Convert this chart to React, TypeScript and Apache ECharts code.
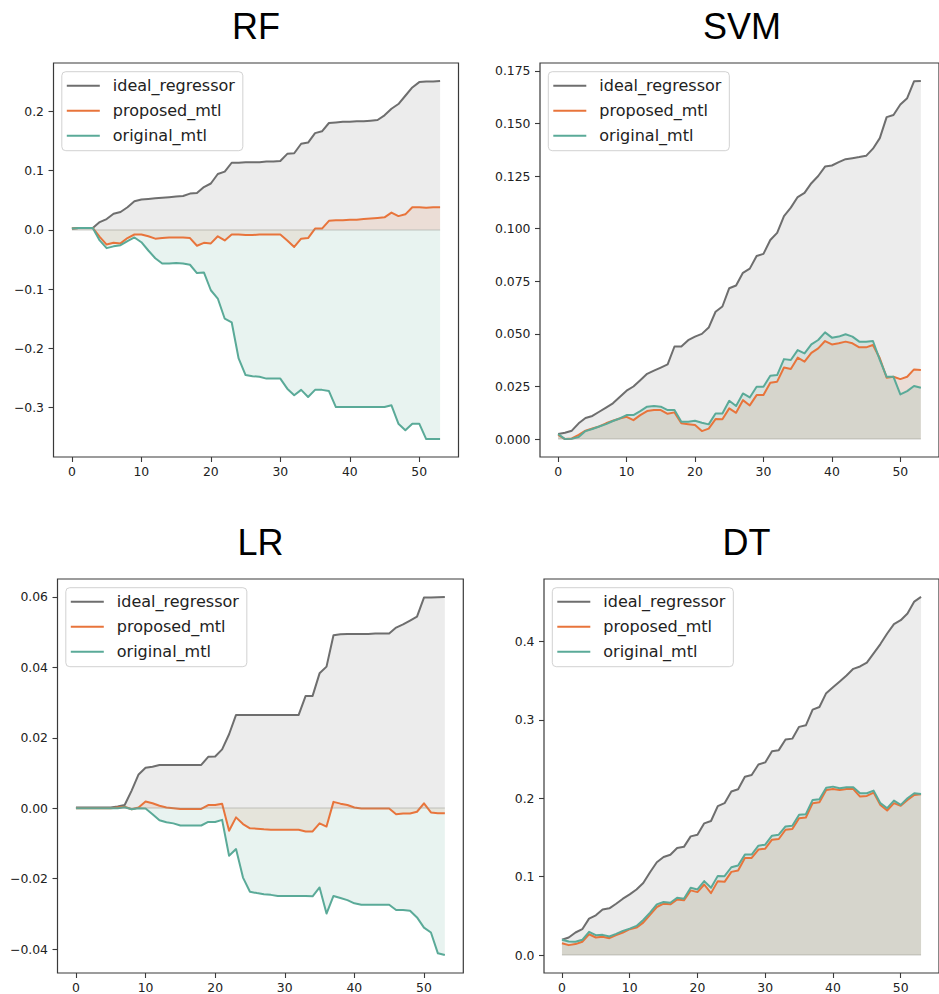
import React, { useEffect, useRef } from "react";
import * as echarts from "echarts";

// x positions (step index) shared by every panel
const steps: number[] = Array.from({ length: 54 }, (_, i) => i);
const xTicks = [0, 10, 20, 30, 40, 50];

const seriesNames = ["ideal_regressor", "proposed_mtl", "original_mtl"];
const lineColors = ["#6e6e6e", "#e8743b", "#5aaa98"];
const fillColors = ["rgba(128,128,128,0.15)", "rgba(232,116,59,0.12)", "rgba(90,170,152,0.14)"];

// ---- RF ----
const rfIdeal = [0.002, 0.003, 0.003, 0.003, 0.013, 0.018, 0.027, 0.030, 0.038, 0.048, 0.051, 0.052, 0.053, 0.054, 0.055, 0.056, 0.057, 0.061, 0.062, 0.072, 0.078, 0.094, 0.098, 0.113, 0.113, 0.114, 0.114, 0.114, 0.115, 0.115, 0.116, 0.128, 0.129, 0.145, 0.147, 0.163, 0.166, 0.180, 0.181, 0.182, 0.182, 0.183, 0.183, 0.184, 0.185, 0.193, 0.204, 0.212, 0.226, 0.240, 0.249, 0.250, 0.250, 0.251];
const rfProposed = [0.002, 0.003, 0.003, 0.003, -0.012, -0.025, -0.022, -0.023, -0.014, -0.008, -0.008, -0.011, -0.015, -0.014, -0.013, -0.013, -0.013, -0.014, -0.027, -0.022, -0.023, -0.011, -0.018, -0.008, -0.008, -0.009, -0.009, -0.008, -0.008, -0.008, -0.008, -0.018, -0.029, -0.015, -0.014, 0.002, 0.002, 0.015, 0.016, 0.016, 0.017, 0.017, 0.018, 0.019, 0.020, 0.021, 0.029, 0.023, 0.026, 0.038, 0.038, 0.037, 0.038, 0.038];
const rfOriginal = [0.002, 0.003, 0.003, 0.003, -0.018, -0.031, -0.028, -0.026, -0.019, -0.013, -0.021, -0.035, -0.048, -0.057, -0.057, -0.056, -0.057, -0.059, -0.073, -0.072, -0.102, -0.116, -0.150, -0.156, -0.217, -0.245, -0.247, -0.248, -0.251, -0.251, -0.251, -0.268, -0.279, -0.270, -0.282, -0.270, -0.270, -0.272, -0.299, -0.299, -0.299, -0.299, -0.299, -0.299, -0.299, -0.299, -0.296, -0.327, -0.338, -0.327, -0.327, -0.353, -0.353, -0.353];
const rfYTicks = [-0.3, -0.2, -0.1, 0, 0.1, 0.2];

// ---- SVM ----
const svmIdeal = [0.0024, 0.003, 0.004, 0.0075, 0.010, 0.011, 0.013, 0.015, 0.017, 0.020, 0.023, 0.025, 0.028, 0.031, 0.0325, 0.034, 0.0355, 0.044, 0.044, 0.047, 0.0487, 0.050, 0.053, 0.0605, 0.063, 0.0717, 0.073, 0.079, 0.081, 0.087, 0.088, 0.0946, 0.098, 0.106, 0.110, 0.115, 0.117, 0.1216, 0.125, 0.1295, 0.130, 0.1316, 0.133, 0.1335, 0.134, 0.1346, 0.138, 0.143, 0.153, 0.154, 0.159, 0.162, 0.170, 0.1702];
const svmProposed = [0.002, 0.0, 0.0003, 0.002, 0.004, 0.005, 0.006, 0.0075, 0.0087, 0.0098, 0.0106, 0.009, 0.0114, 0.0133, 0.0138, 0.0138, 0.012, 0.0127, 0.0075, 0.0071, 0.0067, 0.0038, 0.005, 0.0095, 0.0094, 0.0146, 0.0125, 0.0185, 0.016, 0.0209, 0.0209, 0.0268, 0.0273, 0.034, 0.0333, 0.0387, 0.0368, 0.041, 0.0431, 0.0466, 0.045, 0.0455, 0.0463, 0.0455, 0.0436, 0.0436, 0.0447, 0.0384, 0.0292, 0.0296, 0.0285, 0.0296, 0.0331, 0.0328];
const svmOriginal = [0.0024, 0.0, 0.0002, 0.001, 0.0038, 0.0048, 0.006, 0.0071, 0.0086, 0.0098, 0.0114, 0.0114, 0.0133, 0.0154, 0.0157, 0.0154, 0.0138, 0.0138, 0.0082, 0.0082, 0.0087, 0.0078, 0.007, 0.0122, 0.0122, 0.0182, 0.0157, 0.0217, 0.0198, 0.0249, 0.0249, 0.0301, 0.0304, 0.038, 0.0376, 0.0423, 0.0407, 0.045, 0.0471, 0.0507, 0.0482, 0.0487, 0.0498, 0.0487, 0.0463, 0.0463, 0.0466, 0.0376, 0.0296, 0.0296, 0.0212, 0.0228, 0.0252, 0.0244];
const svmYTicks = [0, 0.025, 0.05, 0.075, 0.1, 0.125, 0.15, 0.175];

// ---- LR ----
const lrIdeal = [0.0002, 0.0002, 0.0002, 0.0002, 0.0002, 0.0002, 0.0005, 0.0009, 0.005, 0.0096, 0.0115, 0.0118, 0.0123, 0.0123, 0.0123, 0.0123, 0.0123, 0.0123, 0.0123, 0.0146, 0.0147, 0.0167, 0.021, 0.0265, 0.0265, 0.0265, 0.0265, 0.0265, 0.0265, 0.0265, 0.0265, 0.0265, 0.0265, 0.0319, 0.0319, 0.0383, 0.0402, 0.0491, 0.0494, 0.0495, 0.0495, 0.0495, 0.0495, 0.0496, 0.0496, 0.0496, 0.0513, 0.0522, 0.0533, 0.0544, 0.0598, 0.0598, 0.0599, 0.060];
const lrProposed = [0, 0, 0, 0, 0, 0, 0.0002, 0.0004, -0.0003, 0.0002, 0.0019, 0.0014, 0.0007, 0.0002, 0.0, -0.0002, -0.0002, -0.0002, -0.0002, 0.0009, 0.0009, 0.0013, -0.0064, -0.0026, -0.0045, -0.0057, -0.0058, -0.006, -0.0061, -0.0061, -0.0061, -0.0061, -0.0061, -0.0066, -0.0066, -0.0043, -0.0052, 0.0018, 0.0013, 0.0009, 0.0002, -0.0001, -0.0001, -0.0001, -0.0001, -0.0001, -0.0017, -0.0015, -0.0015, -0.001, 0.0014, -0.0012, -0.0014, -0.0014];
const lrOriginal = [0, 0, 0, 0, 0, 0, 0, 0.0003, -0.0003, 0.0, -0.0001, -0.0017, -0.0034, -0.004, -0.0043, -0.0049, -0.0049, -0.0049, -0.0049, -0.0039, -0.0039, -0.0033, -0.0135, -0.0116, -0.0197, -0.0237, -0.0241, -0.0244, -0.0246, -0.0249, -0.0249, -0.0249, -0.0249, -0.0249, -0.025, -0.0225, -0.0299, -0.0249, -0.0255, -0.0261, -0.027, -0.0274, -0.0274, -0.0274, -0.0274, -0.0274, -0.0289, -0.0289, -0.0291, -0.031, -0.0339, -0.0353, -0.0412, -0.0417];
const lrYTicks = [-0.04, -0.02, 0, 0.02, 0.04, 0.06];

// ---- DT ----
const dtIdeal = [0.0195, 0.0224, 0.0288, 0.033, 0.0465, 0.0507, 0.058, 0.0596, 0.0655, 0.0719, 0.0774, 0.0837, 0.092, 0.1057, 0.1184, 0.125, 0.128, 0.1366, 0.138, 0.1514, 0.1535, 0.168, 0.171, 0.190, 0.1937, 0.2085, 0.2114, 0.2275, 0.2296, 0.2431, 0.2457, 0.26, 0.2613, 0.2748, 0.276, 0.291, 0.293, 0.3129, 0.3163, 0.334, 0.3416, 0.3488, 0.3564, 0.365, 0.368, 0.373, 0.3848, 0.3966, 0.41, 0.422, 0.427, 0.4355, 0.4507, 0.4567];
const dtProposed = [0.0152, 0.0127, 0.014, 0.017, 0.0266, 0.0224, 0.0233, 0.0216, 0.0254, 0.0288, 0.033, 0.035, 0.0414, 0.0512, 0.0613, 0.0655, 0.0647, 0.071, 0.0698, 0.0825, 0.0803, 0.09, 0.079, 0.0943, 0.0934, 0.1061, 0.1078, 0.1239, 0.1239, 0.1345, 0.1357, 0.1471, 0.148, 0.1598, 0.1607, 0.1746, 0.1755, 0.1937, 0.195, 0.2106, 0.2118, 0.2106, 0.2118, 0.2118, 0.2021, 0.203, 0.2072, 0.1915, 0.1844, 0.1937, 0.1903, 0.1979, 0.2042, 0.2051];
const dtOriginal = [0.0195, 0.0173, 0.017, 0.0195, 0.0296, 0.0254, 0.0258, 0.0237, 0.027, 0.0309, 0.0338, 0.0372, 0.0448, 0.0541, 0.0647, 0.0677, 0.0668, 0.0732, 0.0719, 0.0858, 0.0837, 0.0943, 0.0858, 0.101, 0.1006, 0.112, 0.1142, 0.1281, 0.1281, 0.1395, 0.1408, 0.1522, 0.1535, 0.1641, 0.1649, 0.1789, 0.1797, 0.1979, 0.1987, 0.2135, 0.2148, 0.2127, 0.214, 0.214, 0.2063, 0.2063, 0.2097, 0.1937, 0.1873, 0.197, 0.1915, 0.2, 0.2063, 0.2055];
const dtYTicks = [0, 0.1, 0.2, 0.3, 0.4];

interface Panel {
  title: string;
  values: number[][];
  yTicks: number[];
  decimals: number;
  box: { left: number; top: number; width: number; height: number };
}

const panels: Panel[] = [
  { title: "RF", values: [rfIdeal, rfProposed, rfOriginal], yTicks: rfYTicks, decimals: 1, box: { left: 53.5, top: 63, width: 405, height: 394 } },
  { title: "SVM", values: [svmIdeal, svmProposed, svmOriginal], yTicks: svmYTicks, decimals: 3, box: { left: 540, top: 63, width: 404, height: 394 } },
  { title: "LR", values: [lrIdeal, lrProposed, lrOriginal], yTicks: lrYTicks, decimals: 2, box: { left: 57.5, top: 579, width: 405.8, height: 394 } },
  { title: "DT", values: [dtIdeal, dtProposed, dtOriginal], yTicks: dtYTicks, decimals: 1, box: { left: 544, top: 579, width: 405, height: 394 } },
];

const TICK_FONT = "DejaVu Sans";
const TEXT_COLOR = "#222";
const FRAME_COLOR = "#3a3a3a";

// matplotlib-style autoscale: 5% margin around the data (fills include zero)
function paddedRange(lists: number[][]): [number, number] {
  let lo = 0;
  let hi = 0;
  lists.forEach((arr) => arr.forEach((v) => { if (v < lo) lo = v; if (v > hi) hi = v; }));
  const pad = (hi - lo) * 0.05;
  return [lo - pad, hi + pad];
}

function fmt(v: number, d: number): string {
  return v.toFixed(d).replace("-", "\u2212");
}

function buildOption() {
  const xPad = (steps[steps.length - 1] - steps[0]) * 0.05;

  const grid = panels.map((p) => ({
    ...p.box,
    show: true,
    borderColor: FRAME_COLOR,
    borderWidth: 1.2,
    backgroundColor: "transparent",
    containLabel: false,
  }));

  const xAxis = panels.map((_, k) => ({
    type: "value",
    gridIndex: k,
    position: "bottom",
    min: steps[0] - xPad,
    max: steps[steps.length - 1] + xPad,
    axisLine: { show: false, onZero: false },
    splitLine: { show: false },
    axisTick: { show: true, length: 5, customValues: xTicks, lineStyle: { color: FRAME_COLOR, width: 1.1 } },
    axisLabel: {
      customValues: xTicks,
      margin: 8,
      fontFamily: TICK_FONT,
      fontSize: 12.4,
      color: TEXT_COLOR,
      formatter: (v: number) => String(v),
    },
  }));

  const yAxis = panels.map((p, k) => {
    const [lo, hi] = paddedRange(p.values);
    return {
      type: "value",
      gridIndex: k,
      position: "left",
      min: lo,
      max: hi,
      axisLine: { show: false, onZero: false },
      splitLine: { show: false },
      axisTick: { show: true, length: 5, customValues: p.yTicks, lineStyle: { color: FRAME_COLOR, width: 1.1 } },
      axisLabel: {
        customValues: p.yTicks,
        margin: 9.5,
        fontFamily: TICK_FONT,
        fontSize: 12.4,
        color: TEXT_COLOR,
        formatter: (v: number) => fmt(v, p.decimals),
      },
    };
  });

  const series: any[] = [];
  panels.forEach((p, k) => {
    p.values.forEach((vals, j) => {
      const s: any = {
        type: "line",
        name: seriesNames[j],
        xAxisIndex: k,
        yAxisIndex: k,
        data: vals.map((v, i) => [steps[i], v]),
        symbol: "none",
        showSymbol: false,
        silent: true,
        lineStyle: { color: lineColors[j], width: 2, join: "round" },
        itemStyle: { color: lineColors[j] },
        areaStyle: { color: fillColors[j], origin: "auto", opacity: 1 },
        z: 2,
      };
      if (j === 0) {
        // edge of the filled regions along zero
        s.markLine = {
          silent: true,
          symbol: "none",
          label: { show: false },
          lineStyle: { color: "rgba(140,140,130,0.3)", width: 1.5, type: "solid" },
          data: [[{ coord: [steps[0], 0] }, { coord: [steps[steps.length - 1], 0] }]],
        };
      }
      series.push(s);
    });
  });

  const legend = panels.map((p) => ({
    left: p.box.left + 8.3,
    top: p.box.top + 8.7,
    orient: "vertical",
    icon: "rect",
    itemWidth: 33,
    itemHeight: 2,
    itemGap: 9,
    selectedMode: false,
    backgroundColor: "rgba(255,255,255,0.8)",
    borderColor: "rgba(204,204,204,0.9)",
    borderWidth: 1,
    borderRadius: 4,
    padding: [6, 8, 7, 5],
    textStyle: { fontFamily: TICK_FONT, fontSize: 16, lineHeight: 16, color: TEXT_COLOR, padding: [0, 0, 0, 8] },
    data: seriesNames.map((n, j) => ({ name: n, itemStyle: { color: lineColors[j] } })),
  }));

  const graphic = panels.map((p) => ({
    type: "text",
    x: p.box.left + p.box.width / 2,
    y: p.box.top - 37,
    silent: true,
    style: {
      text: p.title,
      font: '36px "Liberation Sans", Arial, sans-serif',
      fill: "#000",
      align: "center",
      verticalAlign: "middle",
    },
  }));

  return {
    animation: false,
    backgroundColor: "#fff",
    grid,
    xAxis,
    yAxis,
    series,
    legend,
    graphic,
  };
}

export default function App() {
  const ref = useRef<HTMLDivElement>(null);
  useEffect(() => {
    if (!ref.current) return;
    const chart = echarts.init(ref.current, undefined, { renderer: "svg" });
    chart.setOption(buildOption() as any);
    return () => chart.dispose();
  }, []);
  return <div ref={ref} style={{ position: "absolute", left: 0, top: 0, width: 939, height: 994 }} />;
}
